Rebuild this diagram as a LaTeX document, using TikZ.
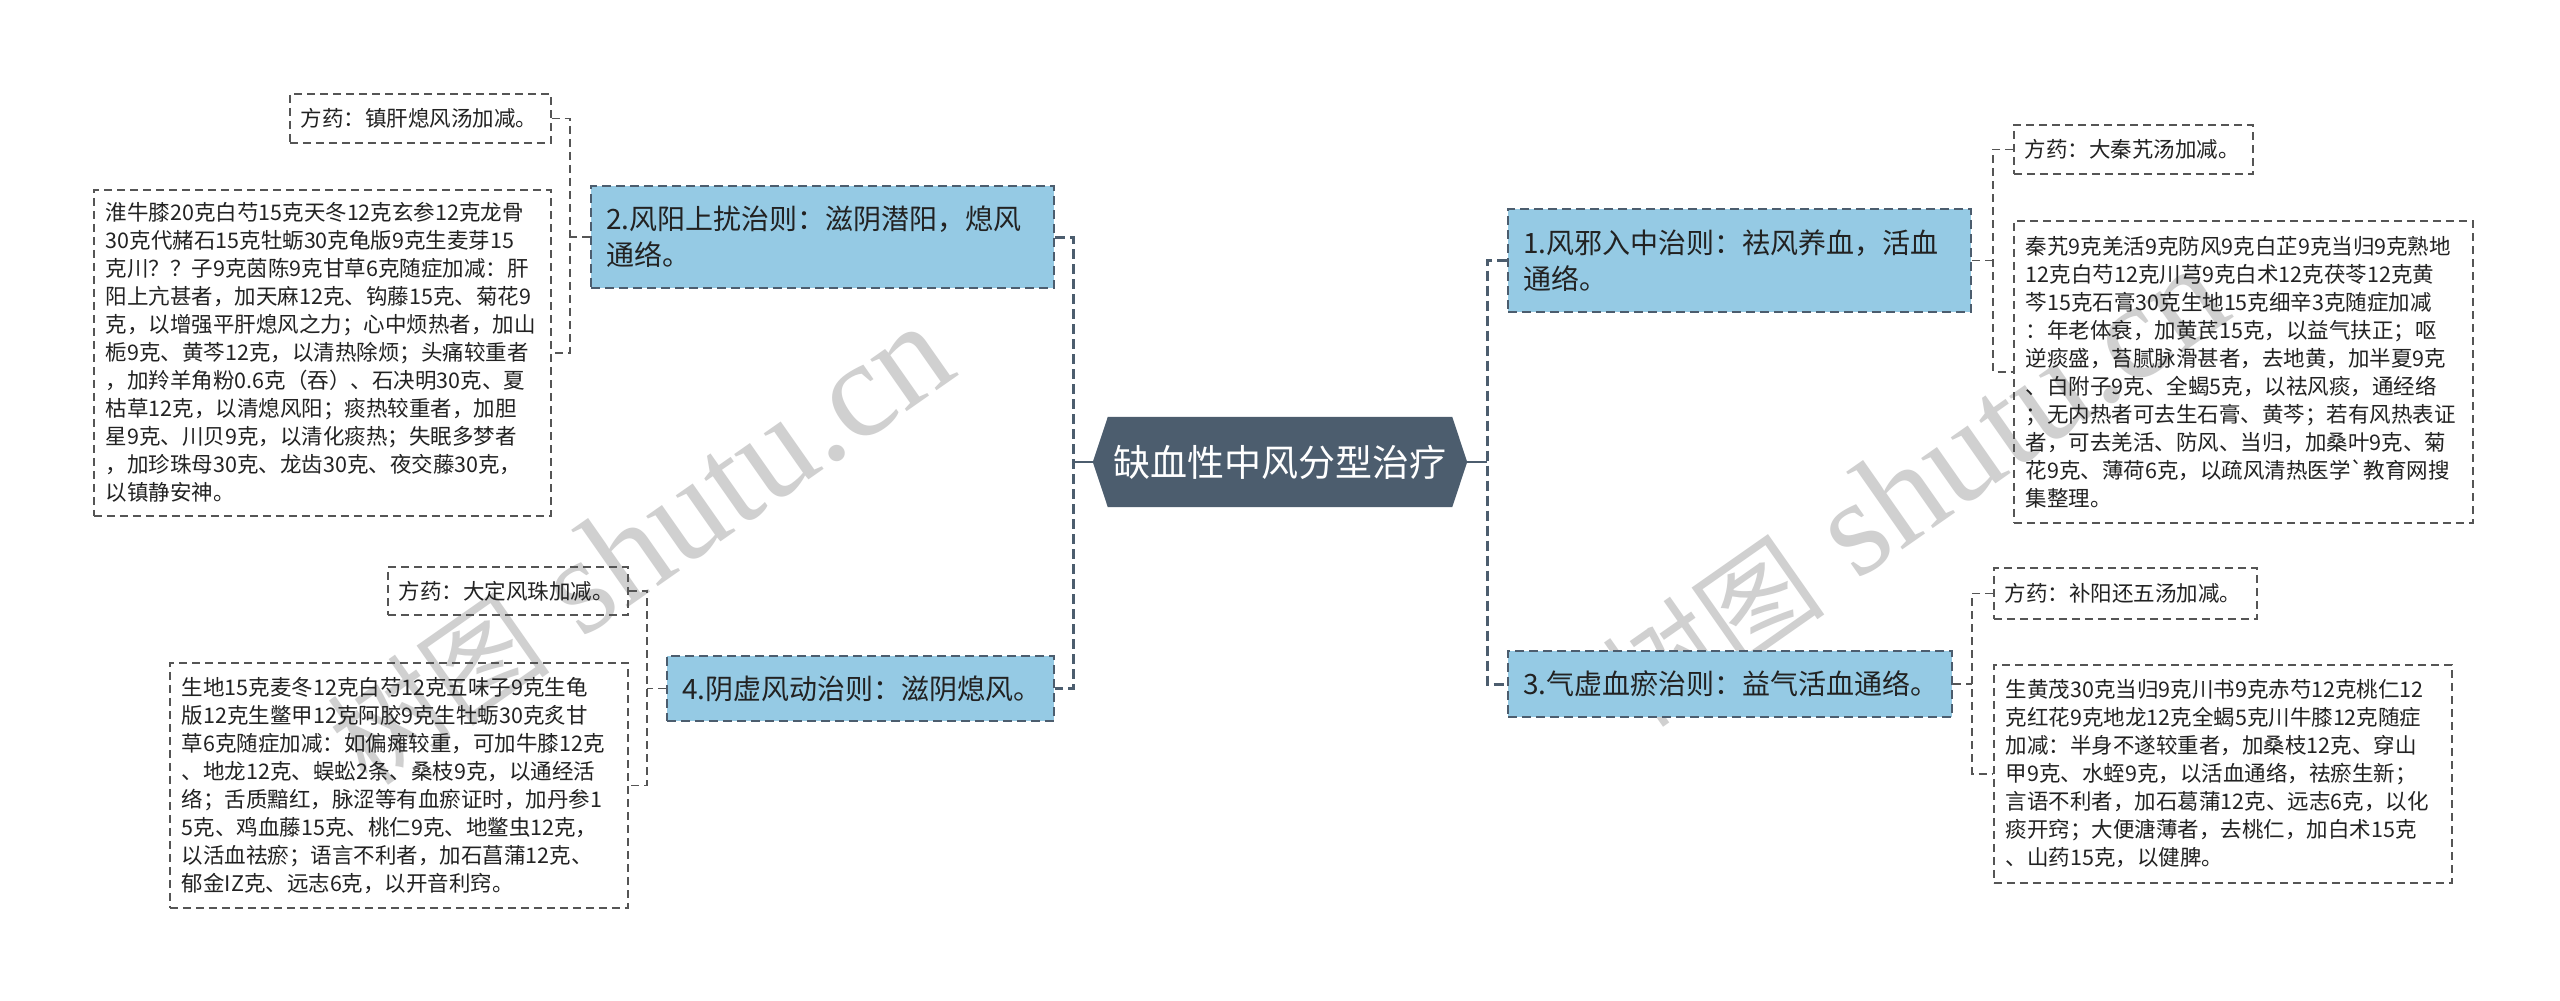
\documentclass[tikz,border=0pt]{standalone}
\usepackage{fontspec}
\setmainfont{Noto Sans CJK SC}
\newfontfamily\wmserif{Liberation Serif}
\usetikzlibrary{calc}
\definecolor{nodefill}{RGB}{149,202,228}
\definecolor{slate}{RGB}{76,93,110}
\definecolor{leafline}{RGB}{85,85,85}
\definecolor{txt}{RGB}{34,34,34}
\definecolor{wmgray}{RGB}{208,208,208}
\pgfdeclarelayer{bgwhite}
\pgfdeclarelayer{bg}
\pgfsetlayers{bgwhite,bg,main}
\begin{document}
\begin{tikzpicture}[x=1pt,y=-1pt,
  mainnode/.style={draw=slate, line width=2pt, dash pattern=on 9pt off 5pt, fill=nodefill,
    anchor=north west, inner xsep=15pt, inner ysep=0pt, align=left,
    font=\fontsize{28}{36}\selectfont, text=txt},
  leaf/.style={draw=leafline, line width=1.6pt, dash pattern=on 8pt off 5pt,
    anchor=north west, inner xsep=12pt, inner ysep=0pt, align=left,
    font=\fontsize{21.5}{28}\selectfont, text=txt},
  smallleaf/.style={leaf, inner xsep=11pt},
  trunk/.style={draw=slate, line width=3pt, dash pattern=on 10pt off 5pt},
  twig/.style={draw=leafline, line width=1.6pt, dash pattern=on 8pt off 5pt},
  rootlink/.style={draw=slate, line width=2.5pt},
  wm/.style={text=wmgray, rotate=35, inner sep=0pt},
]
\begin{pgfonlayer}{bgwhite}
\fill[white] (0,0) rectangle (2560,1001);
\end{pgfonlayer}
\useasboundingbox (0,0) rectangle (2560,1001);

% watermarks
\node[wm, font=\wmserif\fontsize{138}{138}\selectfont, anchor=base west] (wmL2) at (581,640) {shutu.cn};
\node[wm, font=\fontsize{112}{112}\selectfont, anchor=base east] (wmL1) at ($(wmL2.base west)+(-29,20)$) {树图};
\node[wm, font=\wmserif\fontsize{138}{138}\selectfont, anchor=base west] (wmR2) at (1856,582) {shutu.cn};
\node[wm, font=\fontsize{112}{112}\selectfont, anchor=base east] (wmR1) at ($(wmR2.base west)+(-29,20)$) {树图};

% root
\node[text=white, font=\fontsize{37}{40}\selectfont, minimum width=344pt, minimum height=90pt, inner sep=0pt] (root) at (1280,462) {缺血性中风分型治疗};
\coordinate (rootL) at ($(root.west)+(-15,0)$);
\coordinate (rootR) at ($(root.east)+(15,0)$);
\begin{pgfonlayer}{bg}
\fill[slate] (root.north west) -- (root.north east) -- (rootR) -- (root.south east) -- (root.south west) -- (rootL) -- cycle;
\end{pgfonlayer}

% main nodes
\node[mainnode, text width=433pt, minimum height=102pt] (n2) at (590,185) {2.风阳上扰治则：滋阴潜阳，熄风\\通络。};
\node[mainnode, text width=357pt, minimum height=65pt] (n4) at (666,655) {4.阴虚风动治则：滋阴熄风。};
\node[mainnode, text width=433pt, minimum height=103pt] (n1) at (1507,208) {1.风邪入中治则：祛风养血，活血\\通络。};
\node[mainnode, text width=414pt, minimum height=66pt] (n3) at (1507,650) {3.气虚血瘀治则：益气活血通络。};

% leaves of 2
\node[smallleaf, text width=239pt, minimum height=49pt] (l2a) at (289,93) {方药：镇肝熄风汤加减。};
\node[leaf, text width=433pt, minimum height=326pt] (l2b) at (93,189) {淮牛膝20克白芍15克天冬12克玄参12克龙骨\\30克代赭石15克牡蛎30克龟版9克生麦芽15\\克川？？子9克茵陈9克甘草6克随症加减：肝\\阳上亢甚者，加天麻12克、钩藤15克、菊花9\\克，以增强平肝熄风之力；心中烦热者，加山\\栀9克、黄芩12克，以清热除烦；头痛较重者\\，加羚羊角粉0.6克（吞）、石决明30克、夏\\枯草12克，以清熄风阳；痰热较重者，加胆\\星9克、川贝9克，以清化痰热；失眠多梦者\\，加珍珠母30克、龙齿30克、夜交藤30克，\\以镇静安神。};

% leaves of 4
\node[smallleaf, text width=218pt, minimum height=48pt] (l4a) at (387,566) {方药：大定风珠加减。};
\node[leaf, text width=434pt, minimum height=245pt] (l4b) at (169,662) {生地15克麦冬12克白芍12克五味子9克生龟\\版12克生鳖甲12克阿胶9克生牡蛎30克炙甘\\草6克随症加减：如偏瘫较重，可加牛膝12克\\、地龙12克、蜈蚣2条、桑枝9克，以通经活\\络；舌质黯红，脉涩等有血瘀证时，加丹参1\\5克、鸡血藤15克、桃仁9克、地鳖虫12克，\\以活血祛瘀；语言不利者，加石菖蒲12克、\\郁金IZ克、远志6克，以开音利窍。};

% leaves of 1
\node[smallleaf, text width=217pt, minimum height=49pt] (l1a) at (2013,124) {方药：大秦艽汤加减。};
\node[leaf, text width=435pt, minimum height=302pt] (l1b) at (2013,220) {秦艽9克羌活9克防风9克白芷9克当归9克熟地\\12克白芍12克川芎9克白术12克茯苓12克黄\\芩15克石膏30克生地15克细辛3克随症加减\\：年老体衰，加黄芪15克，以益气扶正；呕\\逆痰盛，苔腻脉滑甚者，去地黄，加半夏9克\\、白附子9克、全蝎5克，以祛风痰，通经络\\；无内热者可去生石膏、黄芩；若有风热表证\\者，可去羌活、防风、当归，加桑叶9克、菊\\花9克、薄荷6克，以疏风清热医学\textasciigrave 教育网搜\\集整理。};

% leaves of 3
\node[smallleaf, text width=241pt, minimum height=51pt] (l3a) at (1993,567) {方药：补阳还五汤加减。};
\node[leaf, text width=434pt, minimum height=218pt] (l3b) at (1993,664) {生黄茂30克当归9克川书9克赤芍12克桃仁12\\克红花9克地龙12克全蝎5克川牛膝12克随症\\加减：半身不遂较重者，加桑枝12克、穿山\\甲9克、水蛭9克，以活血通络，祛瘀生新；\\言语不利者，加石葛蒲12克、远志6克，以化\\痰开窍；大便溏薄者，去桃仁，加白术15克\\、山药15克，以健脾。};

% trunk x positions
\coordinate (tl) at (1073,0);
\coordinate (tr) at (1487,0);
\coordinate (s2) at (570,0);
\coordinate (s4) at (647,0);
\coordinate (s1) at (1993,0);
\coordinate (s3) at (1972,0);

% main connectors
\draw[rootlink] (rootL) -- (tl |- rootL);
\draw[rootlink] (rootR) -- (tr |- rootR);
\draw[trunk] (n2.east) -- (tl |- n2.east) -- (tl |- n4.east) -- (n4.east);
\draw[trunk] (n1.west) -- (tr |- n1.west) -- (tr |- n3.west) -- (n3.west);

% sub connectors
\draw[twig] (n2.west) -- (s2 |- n2.west);
\draw[twig] (l2a.east) -- (s2 |- l2a.east) -- (s2 |- l2b.east) -- (l2b.east);
\draw[twig] (n4.west) -- (s4 |- n4.west);
\draw[twig] (l4a.east) -- (s4 |- l4a.east) -- (s4 |- l4b.east) -- (l4b.east);
\draw[twig] (n1.east) -- (s1 |- n1.east);
\draw[twig] (l1a.west) -- (s1 |- l1a.west) -- (s1 |- l1b.west) -- (l1b.west);
\draw[twig] (n3.east) -- (s3 |- n3.east);
\draw[twig] (l3a.west) -- (s3 |- l3a.west) -- (s3 |- l3b.west) -- (l3b.west);
\end{tikzpicture}
\end{document}
